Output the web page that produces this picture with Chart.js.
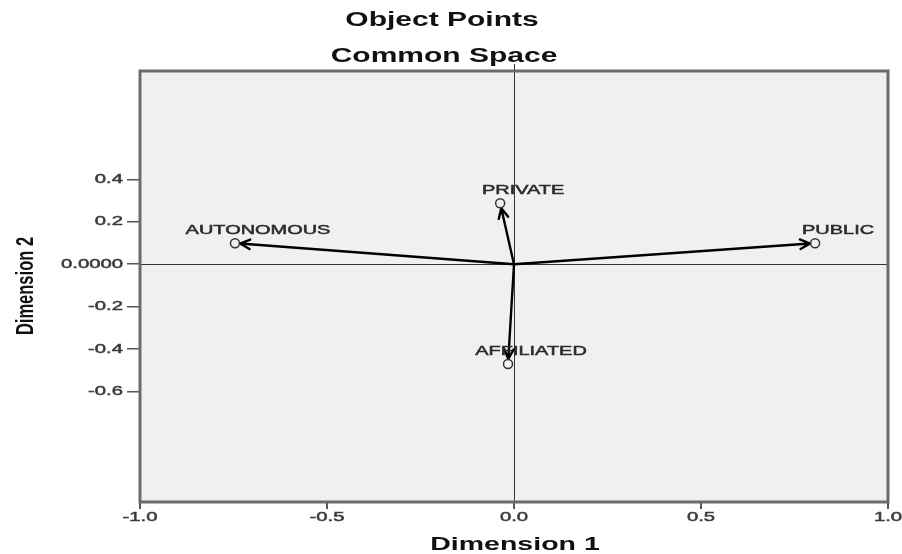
<!DOCTYPE html>
<html>
<head>
<meta charset="utf-8">
<title>Object Points - Common Space</title>
<script src="https://cdn.jsdelivr.net/npm/chart.js@4.4.1/dist/chart.umd.min.js"></script>
<style>
  html, body { margin: 0; padding: 0; background: #fff; }
  #wrap { width: 902px; height: 554px; }
</style>
</head>
<body>
<div id="wrap"><canvas id="chart" width="902" height="554"></canvas></div>
<script>
// ---------------------------------------------------------------------------
// Data
// ---------------------------------------------------------------------------
const objectNames = ["AUTONOMOUS", "PRIVATE", "PUBLIC", "AFFILIATED"];
const dim1 = [-0.746, -0.037, 0.805, -0.016];
const dim2 = [0.099, 0.287, 0.099, -0.470];

const xTickValues = [-1, -0.5, 0, 0.5, 1];
const xTickLabels = ["-1.0", "-0.5", "0.0", "0.5", "1.0"];
const yTickValues = [0.4, 0.2, 0, -0.2, -0.4, -0.6];
const yTickLabels = ["0.4", "0.2", "0.0000", "-0.2", "-0.4", "-0.6"];

const titleLines = ["Object Points", "Common Space"];
const xTitle = "Dimension 1";
const yTitle = "Dimension 2";

// the source image is stretched horizontally, so text is too
const STRETCH = 1.5;
const FONT = "'Liberation Sans', Arial, sans-serif";

function stretchText(ctx, text, x, y, font, color, align, sx, heavy) {
  ctx.save();
  ctx.translate(x, y);
  ctx.scale(sx, 1);
  ctx.font = font;
  ctx.fillStyle = color;
  ctx.textAlign = align;
  ctx.textBaseline = "middle";
  if (heavy) {
    // a hair of stroke, the original glyphs look a bit blurred/heavy
    ctx.strokeStyle = color;
    ctx.lineWidth = heavy;
    ctx.strokeText(text, 0, 0);
  }
  ctx.fillText(text, 0, 0);
  ctx.restore();
}

// ---------------------------------------------------------------------------
// Plugins: plot background/box, zero lines, arrows, texts
// ---------------------------------------------------------------------------
const plotFrame = {
  id: "plotFrame",
  beforeDraw(chart) {
    const { ctx, chartArea: a } = chart;
    ctx.save();
    ctx.fillStyle = "#f0f0f0";
    ctx.fillRect(a.left, a.top, a.right - a.left, a.bottom - a.top);
    ctx.restore();
  },
  beforeDatasetsDraw(chart) {
    const { ctx, chartArea: a, scales } = chart;
    const x0 = scales.x.getPixelForValue(0);
    const y0 = scales.y.getPixelForValue(0);
    ctx.save();
    // zero reference lines
    ctx.strokeStyle = "#333";
    ctx.lineWidth = 1;
    ctx.beginPath();
    ctx.moveTo(Math.round(x0) + 0.5, a.top - 7);
    ctx.lineTo(Math.round(x0) + 0.5, a.bottom);
    ctx.moveTo(a.left, Math.round(y0) + 0.5);
    ctx.lineTo(a.right, Math.round(y0) + 0.5);
    ctx.stroke();

    // arrows from the origin to each object point
    ctx.strokeStyle = "#000";
    ctx.lineWidth = 2.4;
    ctx.lineCap = "round";
    ctx.lineJoin = "round";
    const r = 5;
    objectNames.forEach((name, i) => {
      const px = scales.x.getPixelForValue(dim1[i]);
      const py = scales.y.getPixelForValue(dim2[i]);
      const ang = Math.atan2(py - y0, px - x0);
      const tx = px - Math.cos(ang) * r;
      const ty = py - Math.sin(ang) * r;
      ctx.beginPath();
      ctx.moveTo(x0, y0);
      ctx.lineTo(tx, ty);
      const head = 11, spread = 0.45;
      ctx.moveTo(tx - Math.cos(ang - spread) * head, ty - Math.sin(ang - spread) * head);
      ctx.lineTo(tx, ty);
      ctx.lineTo(tx - Math.cos(ang + spread) * head, ty - Math.sin(ang + spread) * head);
      ctx.stroke();
    });
    ctx.restore();
  },
  afterDraw(chart) {
    const { ctx, chartArea: a, scales } = chart;
    ctx.save();
    // plot box
    ctx.strokeStyle = "#6a6a6a";
    ctx.lineWidth = 3;
    ctx.strokeRect(a.left, a.top, a.right - a.left, a.bottom - a.top);
    ctx.restore();

    // titles
    stretchText(ctx, titleLines[0], 442, 20, "bold 20px " + FONT, "#111", "center", STRETCH);
    stretchText(ctx, titleLines[1], 444, 56, "bold 20px " + FONT, "#111", "center", STRETCH);

    // tick labels
    xTickValues.forEach((v, i) => {
      stretchText(ctx, xTickLabels[i], scales.x.getPixelForValue(v), 517,
        "13.5px " + FONT, "#3a3a3a", "center", STRETCH, 0.5);
    });
    yTickValues.forEach((v, i) => {
      stretchText(ctx, yTickLabels[i], 123, scales.y.getPixelForValue(v),
        "13.5px " + FONT, "#3a3a3a", "right", STRETCH, 0.5);
    });

    // axis titles
    stretchText(ctx, xTitle, 515, 545, "bold 19px " + FONT, "#111", "center", STRETCH);
    ctx.save();
    ctx.translate(26, 286);
    ctx.scale(STRETCH, 1);
    ctx.rotate(-Math.PI / 2);
    ctx.font = "bold 16.5px " + FONT;
    ctx.fillStyle = "#111";
    ctx.textAlign = "center";
    ctx.textBaseline = "middle";
    ctx.fillText(yTitle, 0, 0);
    ctx.restore();

    // point labels
    objectNames.forEach((name, i) => {
      const px = scales.x.getPixelForValue(dim1[i]);
      const py = scales.y.getPixelForValue(dim2[i]);
      stretchText(ctx, name, px + 23, py - 13, "13.3px " + FONT, "#2a2a2a", "center", STRETCH, 0.5);
    });
  }
};

// ---------------------------------------------------------------------------
// Chart
// ---------------------------------------------------------------------------
new Chart(document.getElementById("chart"), {
  type: "scatter",
  data: {
    datasets: [{
      label: "Object points",
      data: objectNames.map((n, i) => ({ x: dim1[i], y: dim2[i] })),
      pointStyle: "circle",
      pointRadius: 4.5,
      pointHoverRadius: 4.5,
      borderColor: "#333",
      borderWidth: 1.5,
      backgroundColor: "rgba(0,0,0,0)",
      clip: false,
    }]
  },
  options: {
    responsive: false,
    animation: false,
    devicePixelRatio: 1,
    layout: { padding: { top: 71, right: 14, left: 0, bottom: 0 } },
    plugins: { legend: { display: false }, tooltip: { enabled: false }, title: { display: false } },
    scales: {
      x: {
        type: "linear", min: -1, max: 1,
        afterBuildTicks: s => { s.ticks = xTickValues.map(v => ({ value: v })); },
        afterFit: s => { s.height = 52; },
        ticks: { display: false },
        border: { display: false },
        grid: { drawOnChartArea: false, drawTicks: true, tickLength: 7, color: "#555", lineWidth: 2 },
      },
      y: {
        type: "linear", min: -1.12, max: 0.91,
        afterBuildTicks: s => { s.ticks = yTickValues.map(v => ({ value: v })); },
        afterFit: s => { s.width = 140; },
        ticks: { display: false },
        border: { display: false },
        grid: { drawOnChartArea: false, drawTicks: true, tickLength: 13, color: "#555", lineWidth: 1.5 },
      }
    }
  },
  plugins: [plotFrame]
});
</script>
</body>
</html>
